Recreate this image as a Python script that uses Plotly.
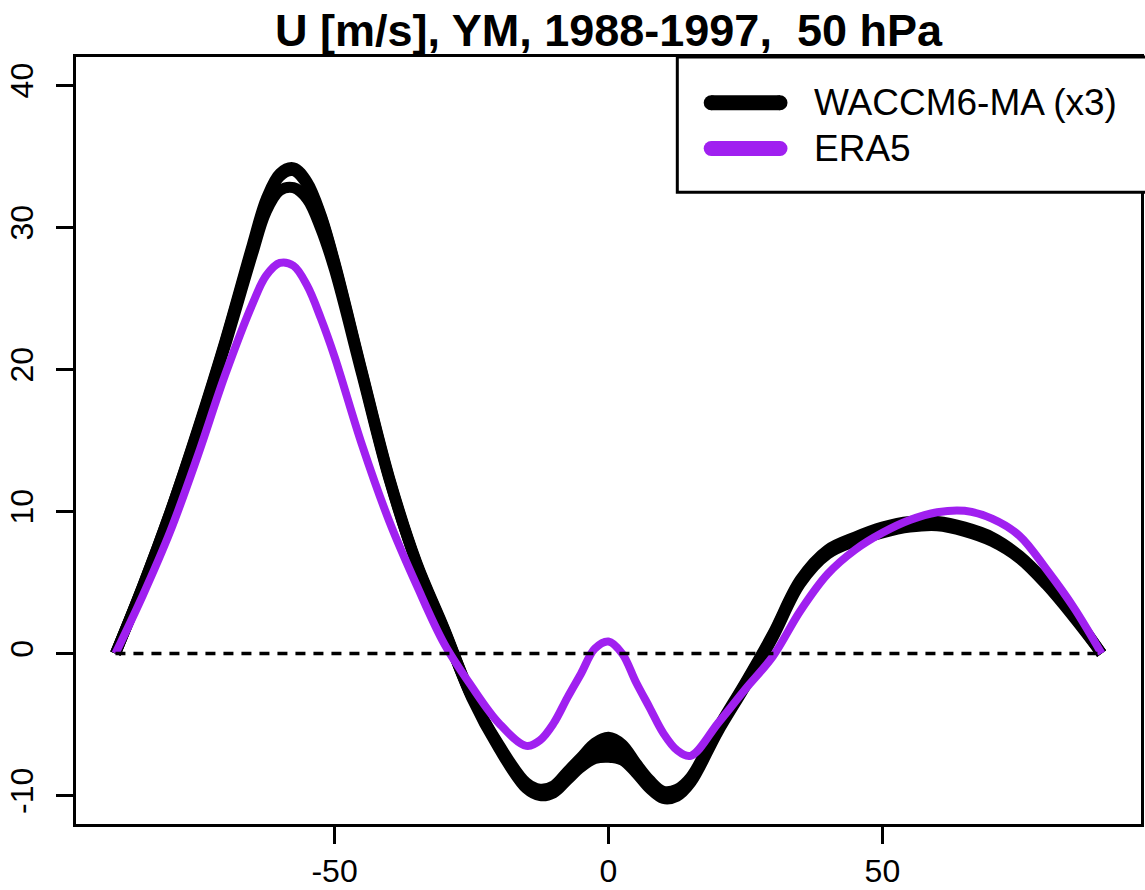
import plotly.graph_objects as go

lat = [-90, -85, -80, -75, -70, -65, -62.5, -60, -57.5, -55, -52.5, -50, -45, -40, -35, -30,
       -25, -20, -15, -12.5, -10, -7.5, -5, -2.5, 0, 2.5, 5, 7.5, 10, 12.5, 15, 20, 25, 30,
       35, 40, 45, 50, 55, 60, 65, 70, 75, 80, 85, 90]

waccm_run1 = [0, 4.8, 10.0, 15.8, 22.0, 28.8, 32.0, 33.8, 34.2, 33.2, 30.9, 27.6, 19.9, 12.4,
              6.4, 1.8, -3.0, -6.5, -9.3, -9.75, -9.5, -8.7, -7.7, -6.9, -6.6, -7.0, -8.1,
              -9.3, -9.95, -9.8, -8.9, -5.3, -2.1, 1.3, 5.1, 7.2, 8.1, 8.7, 9.1, 9.2, 8.8,
              8.1, 6.8, 4.9, 2.6, 0]
waccm_run2 = [0, 4.8, 10.0, 15.7, 21.9, 28.6, 31.8, 33.6, 34.0, 33.0, 30.8, 27.5, 19.8, 12.3,
              6.3, 1.7, -3.0, -6.4, -9.1, -9.55, -9.3, -8.3, -7.3, -6.3, -5.9, -6.4, -7.7,
              -8.9, -9.7, -9.55, -8.7, -5.2, -2.0, 1.4, 5.2, 7.3, 8.2, 8.9, 9.3, 9.3, 8.9,
              8.2, 6.9, 5.0, 2.7, 0]
waccm_run3 = [0, 4.7, 9.8, 15.5, 21.6, 28.1, 31.1, 32.6, 32.8, 32.0, 29.9, 27.0, 19.6, 12.2,
              6.3, 1.7, -3.1, -6.7, -9.5, -10.0, -9.8, -8.9, -8.0, -7.4, -7.3, -7.5, -8.4,
              -9.5, -10.2, -10.05, -9.1, -5.5, -2.3, 1.1, 4.9, 7.0, 7.9, 8.5, 8.9, 9.0, 8.6,
              7.9, 6.7, 4.8, 2.5, 0]
era5 = [0, 4.1, 8.6, 13.9, 19.6, 24.6, 26.6, 27.5, 27.3, 25.9, 23.6, 20.9, 14.7, 9.3,
        4.8, 0.7, -2.3, -4.9, -6.5, -6.1, -4.9, -3.1, -1.4, 0.35, 0.85, 0.0, -2.0,
        -3.8, -5.6, -6.8, -7.2, -4.9, -2.5, -0.2, 3.0, 5.6, 7.3, 8.5, 9.4, 9.95, 10.05,
        9.5, 8.3, 5.9, 3.2, 0]

zero_lat = [-90, 90]
zero_val = [0, 0]

x_ticks = [-50, 0, 50]
y_ticks = [-10, 0, 10, 20, 30, 40]

title_text = "U [m/s], YM, 1988-1997,  50 hPa"
legend_names = ["WACCM6-MA (x3)", "ERA5"]
black = "#000000"
purple = "#A020F0"
font_family = "Liberation Sans, Arial, sans-serif"

fig = go.Figure()
for run in [waccm_run1, waccm_run2, waccm_run3]:
    fig.add_trace(go.Scatter(x=lat, y=run, mode="lines",
                             line=dict(color=black, width=11, shape="spline", smoothing=1.0),
                             name=legend_names[0], showlegend=False, hoverinfo="skip"))
fig.add_trace(go.Scatter(x=lat, y=era5, mode="lines",
                         line=dict(color=purple, width=8, shape="spline", smoothing=1.0),
                         name=legend_names[1], showlegend=False, hoverinfo="skip"))
fig.add_trace(go.Scatter(x=zero_lat, y=zero_val, mode="lines",
                         line=dict(color=black, width=3.5, dash="10px,8px"),
                         showlegend=False, hoverinfo="skip"))

# Legend box (manual, R-style)
L, W = 76, 1068
top_px, plot_h = 57, 771
shapes = [dict(type="rect", xref="paper", yref="paper", x0=(679 - L) / W, x1=1.02,
               y0=1 - (193 - top_px) / plot_h, y1=1.0,
               line=dict(color=black, width=3), fillcolor="white", layer="above")]
annotations = []
leg_y = [103, 149]
leg_cols = [black, purple]
for k in range(2):
    yp = 1 - (leg_y[k] - top_px) / plot_h
    shapes.append(dict(type="line", xref="paper", yref="paper", x0=(713 - L) / W, x1=(782 - L) / W,
                       y0=yp, y1=yp, line=dict(color=leg_cols[k], width=15), layer="above"))
    for cx in [713, 782]:
        shapes.append(dict(type="circle", xref="paper", yref="paper", xsizemode="pixel", ysizemode="pixel",
                           xanchor=(cx - L) / W, yanchor=yp, x0=-7.5, x1=7.5, y0=-7.5, y1=7.5,
                           fillcolor=leg_cols[k], line=dict(width=0), layer="above"))
    annotations.append(dict(xref="paper", yref="paper", x=(814 - L) / W, y=yp, xanchor="left",
                            yanchor="middle", text=legend_names[k], showarrow=False,
                            font=dict(family=font_family, size=37, color=black)))

fig.update_layout(
    width=1145, height=890,
    margin=dict(l=L, r=1, t=top_px, b=62),
    paper_bgcolor="white", plot_bgcolor="white",
    title=dict(text="<b>" + title_text + "</b>", x=0.5, xref="paper", y=1 - 30 / 890, yref="container",
               xanchor="center", yanchor="middle",
               font=dict(family=font_family, size=45, color=black)),
    shapes=shapes, annotations=annotations,
    showlegend=False,
)
fig.update_xaxes(range=[-97.2, 97.2], tickvals=x_ticks, ticktext=[str(v) for v in x_ticks],
                 showgrid=False, zeroline=False, showline=True, mirror=True, linecolor=black, linewidth=3,
                 ticks="outside", ticklen=17, tickwidth=3, tickcolor=black,
                 tickfont=dict(family=font_family, size=32, color=black))
fig.update_yaxes(range=[-12, 42], tickvals=y_ticks, ticktext=[str(v) for v in y_ticks],
                 showgrid=False, zeroline=False, showline=True, mirror=True, linecolor=black, linewidth=3,
                 ticks="outside", ticklen=17, tickwidth=3, tickcolor=black, tickangle=-90,
                 ticklabelstandoff=10,
                 tickfont=dict(family=font_family, size=32, color=black))

fig.write_html("out.html")
